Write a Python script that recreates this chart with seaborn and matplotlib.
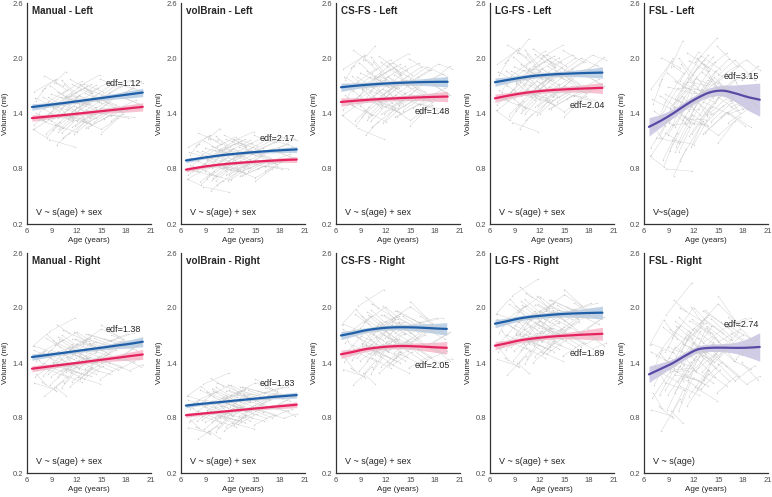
import numpy as np
import pandas as pd
import seaborn as sns
import matplotlib
matplotlib.use("Agg")
import matplotlib.pyplot as plt
# --------------------------------------------------------------------------------------------------
# GAM fits (male = blue, female = pink, FSL = single purple fit)
age_grid = [6.6, 8.0, 9.5, 11.0, 12.5, 14.0, 15.5, 17.0, 18.5, 20.0]

manual_l_male = [1.47, 1.486, 1.503, 1.52, 1.538, 1.556, 1.574, 1.592, 1.61, 1.628]
manual_l_female = [1.35, 1.362, 1.375, 1.388, 1.402, 1.416, 1.43, 1.444, 1.458, 1.472]
manual_l_ci = [0.035, 0.028, 0.022, 0.020, 0.020, 0.022, 0.027, 0.033, 0.040, 0.045]

volbrain_l_male = [0.89, 0.91, 0.93, 0.948, 0.962, 0.974, 0.985, 0.995, 1.003, 1.01]
volbrain_l_female = [0.79, 0.812, 0.832, 0.848, 0.86, 0.871, 0.88, 0.888, 0.895, 0.90]
volbrain_l_ci = [0.025, 0.018, 0.015, 0.014, 0.014, 0.015, 0.018, 0.022, 0.027, 0.032]

csfs_l_male = [1.685, 1.698, 1.71, 1.72, 1.728, 1.734, 1.739, 1.742, 1.744, 1.745]
csfs_l_female = [1.525, 1.536, 1.546, 1.555, 1.562, 1.568, 1.573, 1.578, 1.582, 1.585]
csfs_l_ci = [0.045, 0.035, 0.028, 0.025, 0.025, 0.027, 0.032, 0.040, 0.050, 0.060]

lgfs_l_male = [1.74, 1.762, 1.785, 1.805, 1.818, 1.827, 1.833, 1.838, 1.842, 1.845]
lgfs_l_female = [1.565, 1.59, 1.614, 1.633, 1.647, 1.657, 1.664, 1.67, 1.675, 1.68]
lgfs_l_ci = [0.045, 0.035, 0.028, 0.025, 0.025, 0.027, 0.032, 0.040, 0.050, 0.065]

fsl_l_all = [1.255, 1.32, 1.40, 1.49, 1.57, 1.63, 1.648, 1.62, 1.58, 1.55]
fsl_l_ci = [0.10, 0.07, 0.05, 0.045, 0.045, 0.05, 0.06, 0.09, 0.14, 0.18]

manual_r_male = [1.465, 1.482, 1.50, 1.518, 1.537, 1.555, 1.573, 1.592, 1.61, 1.632]
manual_r_female = [1.338, 1.354, 1.372, 1.389, 1.406, 1.424, 1.441, 1.458, 1.476, 1.493]
manual_r_ci = [0.035, 0.028, 0.022, 0.020, 0.020, 0.022, 0.027, 0.035, 0.045, 0.055]

volbrain_r_male = [0.935, 0.95, 0.963, 0.976, 0.99, 1.003, 1.016, 1.029, 1.04, 1.05]
volbrain_r_female = [0.83, 0.843, 0.856, 0.869, 0.882, 0.895, 0.908, 0.921, 0.933, 0.945]
volbrain_r_ci = [0.025, 0.018, 0.015, 0.014, 0.014, 0.015, 0.018, 0.022, 0.027, 0.032]

csfs_r_male = [1.70, 1.725, 1.755, 1.775, 1.787, 1.79, 1.788, 1.782, 1.775, 1.77]
csfs_r_female = [1.495, 1.52, 1.55, 1.568, 1.58, 1.585, 1.582, 1.576, 1.569, 1.564]
csfs_r_ci = [0.045, 0.035, 0.028, 0.027, 0.028, 0.030, 0.037, 0.047, 0.060, 0.075]

lgfs_r_male = [1.829, 1.855, 1.885, 1.905, 1.918, 1.93, 1.938, 1.943, 1.947, 1.95]
lgfs_r_female = [1.589, 1.615, 1.645, 1.665, 1.68, 1.692, 1.70, 1.708, 1.714, 1.72]
lgfs_r_ci = [0.045, 0.035, 0.028, 0.027, 0.028, 0.030, 0.037, 0.047, 0.060, 0.075]

fsl_r_all = [1.276, 1.335, 1.40, 1.48, 1.548, 1.565, 1.567, 1.565, 1.567, 1.575]
fsl_r_ci = [0.09, 0.065, 0.045, 0.04, 0.04, 0.04, 0.045, 0.06, 0.10, 0.155]

panel_titles = ["Manual - Left", "volBrain - Left", "CS-FS - Left", "LG-FS - Left", "FSL - Left",
                "Manual - Right", "volBrain - Right", "CS-FS - Right", "LG-FS - Right", "FSL - Right"]
edf_labels = ["edf=1.12", "edf=2.17", "edf=1.48", "edf=2.04", "edf=3.15",
              "edf=1.38", "edf=1.83", "edf=2.05", "edf=1.89", "edf=2.74"]
formulas = ["V ~ s(age) + sex"] * 4 + ["V~s(age)"] + ["V ~ s(age) + sex"] * 4 + ["V ~ s(age)"]
fit_end = [20.0, 20.0, 19.5, 19.6, 20.0, 20.0, 20.0, 19.4, 19.6, 20.0]

fits = [
    (manual_l_male, manual_l_female, manual_l_ci),
    (volbrain_l_male, volbrain_l_female, volbrain_l_ci),
    (csfs_l_male, csfs_l_female, csfs_l_ci),
    (lgfs_l_male, lgfs_l_female, lgfs_l_ci),
    (fsl_l_all, None, fsl_l_ci),
    (manual_r_male, manual_r_female, manual_r_ci),
    (volbrain_r_male, volbrain_r_female, volbrain_r_ci),
    (csfs_r_male, csfs_r_female, csfs_r_ci),
    (lgfs_r_male, lgfs_r_female, lgfs_r_ci),
    (fsl_r_all, None, fsl_r_ci),
]

# individual trajectories: scan ages and offsets from the fitted mean (hand-read, in units of spread)
traj_ages = [
    [7.0, 9.1, 11.3], [7.5, 10.2], [8.0, 10.1, 12.4, 14.6], [8.3, 11.0], [8.8, 10.9, 13.2],
    [9.0, 11.6], [9.4, 12.0, 14.1], [9.7, 12.3], [10.0, 12.1, 14.5, 16.8], [10.3, 13.0],
    [10.6, 12.9, 15.2], [11.0, 13.4], [11.2, 13.8, 16.0], [11.5, 14.0], [11.9, 14.3, 16.6],
    [12.2, 14.8], [12.6, 15.1, 17.4], [13.0, 15.5], [13.4, 16.0, 18.2], [13.9, 16.3],
    [14.3, 16.9, 19.0], [14.8, 17.2], [15.3, 17.8], [15.9, 18.4, 20.0], [16.5, 19.2],
    [6.8, 8.9], [7.2, 9.8, 12.0], [7.8, 9.5], [8.5, 10.6, 12.8], [9.2, 11.4],
    [9.9, 11.8, 13.6], [10.4, 12.6], [10.8, 12.2, 14.9], [11.7, 13.1], [12.0, 14.6, 17.0],
    [12.9, 15.4], [13.6, 15.8, 18.0], [14.5, 17.5], [16.2, 18.7], [17.1, 19.6],
    [8.1, 10.4], [9.6, 11.1], [7.4, 8.6, 10.8], [10.1, 11.5, 13.0], [11.3, 12.7, 14.2],
    [6.7, 8.4, 10.0], [9.3, 10.7], [10.9, 13.3, 15.6], [12.4, 13.9], [8.7, 11.8],
]
traj_offsets = [
    [0.35, 0.10, 0.22], [-0.20, -0.45], [0.05, 0.30, 0.12, 0.40], [-0.55, -0.15], [0.60, 0.25, 0.48],
    [-0.10, 0.18], [-0.35, -0.60, -0.30], [0.42, 0.08], [0.15, -0.12, 0.20, -0.05], [-0.70, -0.38],
    [0.28, 0.55, 0.30], [-0.25, 0.05], [0.70, 0.35, 0.52], [-0.45, -0.20], [0.02, -0.30, -0.10],
    [0.50, 0.72], [-0.15, 0.12, -0.22], [0.32, 0.05], [-0.52, -0.28, -0.40], [0.20, 0.45],
    [-0.08, 0.18, 0.30], [0.62, 0.38], [-0.35, -0.12], [0.25, 0.50, 0.40], [-0.20, 0.02],
    [-0.30, -0.05], [0.18, -0.20, 0.10], [0.50, 0.75], [-0.10, 0.15, -0.25], [0.08, -0.32],
    [-0.48, -0.18, -0.42], [0.38, 0.62], [-0.02, 0.28, 0.05], [-0.62, -0.35], [0.12, -0.15, 0.18],
    [0.45, 0.20], [-0.28, 0.02, -0.18], [0.10, 0.38], [-0.42, -0.15], [0.15, -0.10],
    [0.85, 0.55], [-0.85, -0.60], [-0.05, 0.22, 0.45], [0.00, -0.25, 0.10], [0.35, 0.10, -0.05],
    [-0.40, -0.65, -0.30], [0.65, 0.90], [-0.15, -0.40, -0.20], [0.55, 0.30], [-0.70, -0.95],
]
# second scan cohort, shifted ages (hand-read)
traj_ages_b = [
    [7.9, 9.6, 11.9], [8.6, 10.3], [9.1, 11.2, 13.5], [9.8, 12.5], [10.5, 12.0, 14.4],
    [11.4, 13.7], [12.8, 15.0, 17.6], [13.2, 14.7], [14.1, 16.5], [15.0, 17.0, 19.4],
    [7.1, 8.2], [8.9, 11.7], [10.2, 11.9, 13.8], [11.8, 14.2], [12.3, 13.6, 15.9],
    [6.9, 9.4, 11.6], [9.5, 10.8], [10.7, 13.1], [13.1, 16.2, 18.9], [17.8, 19.8],
]
traj_offsets_b = [
    [0.22, -0.08, 0.12], [-0.32, -0.10], [0.48, 0.20, 0.35], [-0.18, -0.42], [0.10, 0.32, 0.05],
    [-0.58, -0.30], [0.30, 0.08, 0.25], [-0.05, -0.28], [0.40, 0.15], [-0.22, -0.45, -0.25],
    [0.02, 0.25], [-0.40, -0.12], [0.58, 0.30, 0.45], [0.05, -0.18], [-0.30, -0.05, -0.25],
    [0.40, 0.15, 0.28], [-0.65, -0.45], [0.18, -0.08], [0.08, 0.30, 0.12], [-0.10, 0.12],
]
traj_spread = [0.45, 0.38, 0.55, 0.55, 0.80, 0.45, 0.38, 0.55, 0.55, 0.80]
# --------------------------------------------------------------------------------------------------
# layout (pixel positions of the axes in the 772x497 canvas) and text positions
ax_left_px = [27, 181, 336, 490, 644]
ax_width_px = 124
row_box_px = [(3, 224), (253, 473)]
edf_pos = [(17.7, 1.73), (17.6, 1.13), (17.6, 1.42), (17.8, 1.49), (17.8, 1.80),
           (17.7, 1.76), (17.6, 1.175), (17.7, 1.375), (17.8, 1.50), (17.8, 1.82)]

col_male = "#1f5fa8"
col_female = "#e5245f"
col_all = "#5a4aa6"
col_traj = "#cbcbcb"


def smooth(xs, ys, xf):
    """cubic hermite through the read-off points, so the fits look like smooth GAM curves"""
    xs = np.asarray(xs, float)
    ys = np.asarray(ys, float)
    m = np.gradient(ys, xs)
    idx = np.clip(np.searchsorted(xs, xf) - 1, 0, len(xs) - 2)
    h = xs[idx + 1] - xs[idx]
    t = (xf - xs[idx]) / h
    return ((2 * t**3 - 3 * t**2 + 1) * ys[idx] + (t**3 - 2 * t**2 + t) * h * m[idx]
            + (-2 * t**3 + 3 * t**2) * ys[idx + 1] + (t**3 - t**2) * h * m[idx + 1])


sns.set_style("white")
plt.rcParams["font.family"] = ["Liberation Sans", "DejaVu Sans"]

fig = plt.figure(figsize=(7.72, 4.97), dpi=100)
W, H = 772, 497

for i, title in enumerate(panel_titles):
    row, col = divmod(i, 5)
    top, bottom = row_box_px[row]
    ax = fig.add_axes([ax_left_px[col] / W, 1 - bottom / H, ax_width_px / W, (bottom - top) / H])

    male, female, ci = fits[i]
    if female is None:
        center = np.array(male)
    else:
        center = (np.array(male) + np.array(female)) / 2

    # spaghetti of individual subjects
    sign = 1 if row == 0 else -1
    rows = []
    cohorts = [(traj_ages, traj_offsets, sign), (traj_ages_b, traj_offsets_b, -sign),
               (traj_ages_b, traj_offsets, sign)]
    n = 0
    for ages_set, offs_set, sg in cohorts:
        for ages, offs in zip(ages_set, offs_set):
            for a, o in zip(ages, offs):
                rows.append({"subj": n, "age": a,
                             "vol": np.interp(a, age_grid, center) + sg * o * traj_spread[i]})
            n += 1
    df_traj = pd.DataFrame(rows)
    sns.lineplot(data=df_traj, x="age", y="vol", units="subj", estimator=None, ax=ax,
                 color=col_traj, lw=0.35, marker="o", markersize=1.0, markeredgewidth=0,
                 alpha=0.85, legend=False)

    # fitted curves with confidence bands
    g = np.linspace(age_grid[0], fit_end[i], 80)
    series = [(male, col_all if female is None else col_male)]
    if female is not None:
        series.append((female, col_female))
    for vals, c in series:
        v = smooth(age_grid, vals, g)
        w = smooth(age_grid, ci, g)
        df_fit = pd.DataFrame({"age": g, "vol": v})
        ax.fill_between(g, v - w, v + w, color=c, alpha=0.28, lw=0)
        sns.lineplot(data=df_fit, x="age", y="vol", ax=ax, color=c, lw=1.6)

    ax.set_xlim(6, 21)
    ax.set_ylim(0.2, 2.6)
    ax.set_xticks([6, 9, 12, 15, 18, 21])
    ax.set_yticks([0.2, 0.8, 1.4, 2.0, 2.6])
    ax.set_yticklabels(["0.2", "0.8", "1.4", "2.0", "2.6"])
    ax.tick_params(axis="both", labelsize=5.5, colors="#4d4d4d", length=2, width=0.6, pad=1)
    ax.set_xlabel("Age (years)", fontsize=5.8, labelpad=1)
    ax.set_ylabel("Volume (ml)", fontsize=5.8, labelpad=2)
    sns.despine(ax=ax)
    for s in ["left", "bottom"]:
        ax.spines[s].set_color("#333333")
        ax.spines[s].set_linewidth(0.9)

    ax.text(0.04, 0.985, title, transform=ax.transAxes, fontsize=7.1, fontweight="bold",
            ha="left", va="top")
    ax.text(edf_pos[i][0], edf_pos[i][1], edf_labels[i], fontsize=6.5, ha="center", va="center")
    ax.text(7.1, 0.33, formulas[i], fontsize=6.5, ha="left", va="center")

fig.savefig("out.png", dpi=100)
